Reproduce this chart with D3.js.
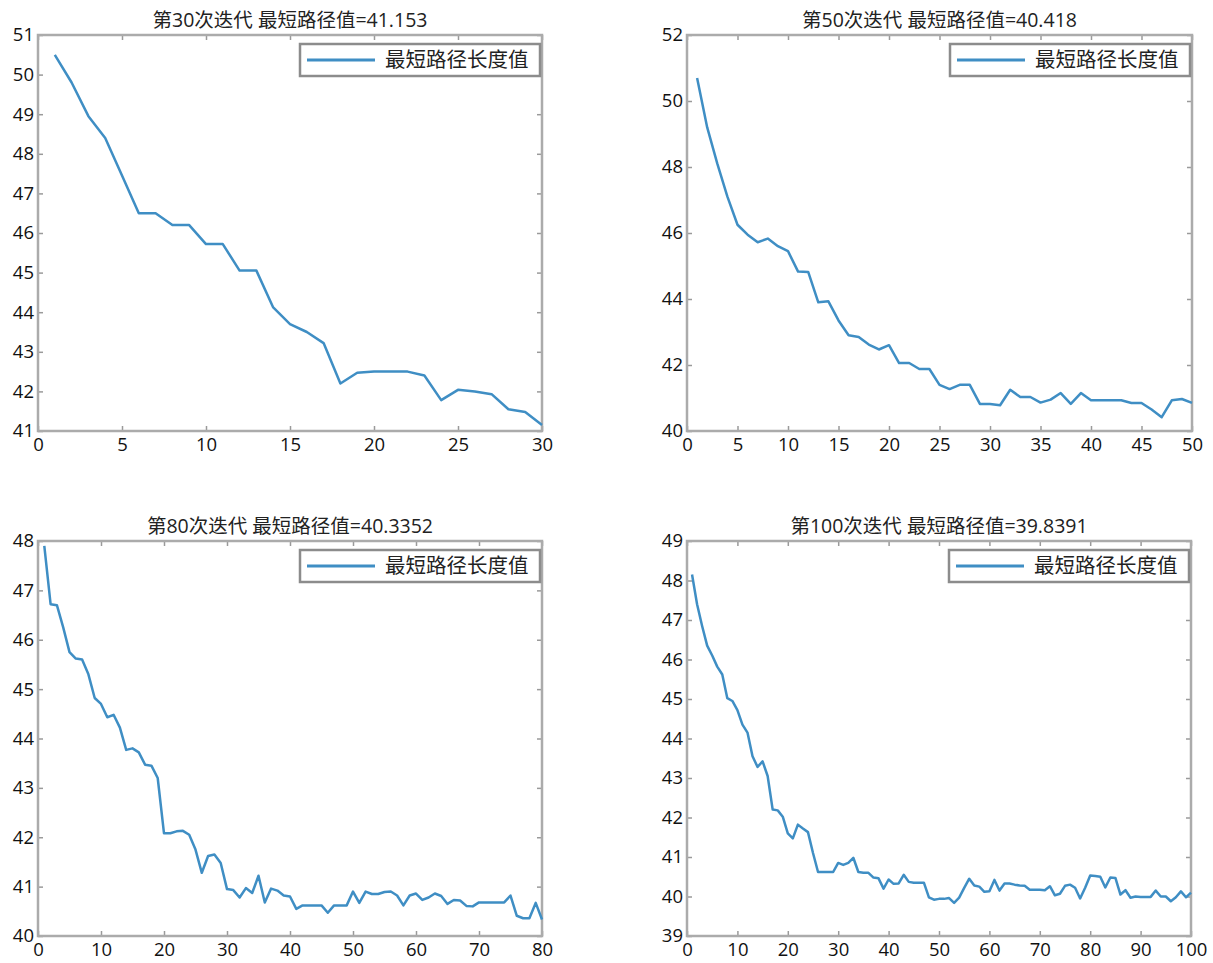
<!DOCTYPE html>
<html>
<head>
<meta charset="utf-8">
<script src="https://cdn.jsdelivr.net/npm/d3@7"></script>
<style>
  body { margin: 0; background: #fff; }
  svg { display: block; }
  .tick text { font-family: "Open Sans", "Noto Sans CJK SC", sans-serif; font-size: 18.5px; fill: #111; }
</style>
</head>
<body>
<script>
// datos (valor de la ruta mas corta por iteracion)
let iter30 = [50.5, 49.8, 48.95, 48.4, 47.45, 46.5, 46.5, 46.2, 46.2, 45.72,
    45.72, 45.05, 45.05, 44.12, 43.7, 43.5, 43.22, 42.2, 42.47, 42.5,
    42.5, 42.5, 42.4, 41.78, 42.04, 42.0, 41.93, 41.55, 41.48, 41.153];

let iter50 = [50.7, 49.2, 48.1, 47.1, 46.25, 45.95, 45.72, 45.83, 45.6, 45.45,
    44.83, 44.82, 43.9, 43.93, 43.35, 42.9, 42.85, 42.62, 42.47, 42.6,
    42.06, 42.06, 41.88, 41.88, 41.4, 41.27, 41.4, 41.4, 40.82, 40.82,
    40.78, 41.25, 41.03, 41.03, 40.86, 40.95, 41.15, 40.82, 41.15, 40.93,
    40.93, 40.93, 40.93, 40.85, 40.85, 40.65, 40.418, 40.93, 40.97, 40.85];

let iter80 = [47.9, 46.72, 46.7, 46.25, 45.75, 45.62, 45.6, 45.3, 44.82, 44.7,
    44.43, 44.48, 44.22, 43.77, 43.8, 43.72, 43.47, 43.45, 43.2, 42.08,
    42.08, 42.12, 42.13, 42.05, 41.75, 41.28, 41.62, 41.65, 41.48, 40.95,
    40.93, 40.78, 40.97, 40.87, 41.22, 40.68, 40.96, 40.92, 40.82, 40.8,
    40.55, 40.62, 40.62, 40.62, 40.62, 40.47, 40.62, 40.62, 40.62, 40.9,
    40.67, 40.9, 40.85, 40.85, 40.89, 40.9, 40.82, 40.62, 40.82, 40.86,
    40.73, 40.78, 40.86, 40.81, 40.65, 40.73, 40.72, 40.61, 40.6, 40.68,
    40.68, 40.68, 40.68, 40.68, 40.82, 40.41, 40.36, 40.36, 40.67, 40.3352];

let iter100 = [48.15, 47.4, 46.85, 46.35, 46.1, 45.82, 45.62, 45.02, 44.95, 44.72,
    44.35, 44.15, 43.55, 43.28, 43.42, 43.05, 42.2, 42.18, 42.02, 41.6,
    41.47, 41.82, 41.72, 41.63, 41.1, 40.62, 40.62, 40.62, 40.62, 40.85,
    40.8, 40.85, 40.98, 40.62, 40.6, 40.6, 40.48, 40.46, 40.2, 40.43,
    40.32, 40.33, 40.55, 40.37, 40.35, 40.35, 40.35, 39.98, 39.92, 39.94,
    39.94, 39.96, 39.8391, 39.97, 40.22, 40.45, 40.28, 40.25, 40.12, 40.13,
    40.42, 40.15, 40.33, 40.33, 40.3, 40.28, 40.27, 40.17, 40.17, 40.17,
    40.16, 40.26, 40.03, 40.07, 40.27, 40.3, 40.22, 39.95, 40.22, 40.53,
    40.52, 40.5, 40.23, 40.48, 40.47, 40.05, 40.16, 39.97, 40.0, 39.99,
    39.99, 39.99, 40.15, 40.0, 40.0, 39.88, 39.98, 40.13, 39.98, 40.1];

let titulos = ["第30次迭代 最短路径值=41.153", "第50次迭代 最短路径值=40.418",
    "第80次迭代 最短路径值=40.3352", "第100次迭代 最短路径值=39.8391"];
let leyenda = "最短路径长度值";

// dominios y marcas de cada eje
let xDominios = [[0, 30], [0, 50], [0, 80], [0, 100]];
let yDominios = [[41, 51], [40, 52], [40, 48], [39, 49]];
let xPasos = [5, 5, 10, 10];
let yPasos = [1, 2, 1, 1];

let w = 1213;
let h = 963;
let svg = d3.select('body')
    .append('svg')
    .attr('width', w)
    .attr('height', h);

// cajas de cada grafica (izq, der, arriba, abajo)
let cajas = [
    [38, 542, 35, 431],
    [687, 1192, 35, 431],
    [38, 542, 541, 936],
    [687, 1191, 541, 936]
];

let series = [iter30, iter50, iter80, iter100];

function graficar(k) {
    let [x0, x1, y0, y1] = cajas[k];
    let datos = series[k];

    let x = d3.scaleLinear().domain(xDominios[k]).range([x0, x1]);
    let y = d3.scaleLinear().domain(yDominios[k]).range([y1, y0]);

    let xt = d3.range(xDominios[k][0], xDominios[k][1] + 0.001, xPasos[k]);
    let yt = d3.range(yDominios[k][0], yDominios[k][1] + 0.001, yPasos[k]);

    let g = svg.append('g');

    // ejes con marcas hacia adentro
    let ab = g.append('g')
        .attr('transform', `translate(0,${y1})`)
        .call(d3.axisBottom(x).tickValues(xt).tickSize(-5).tickSizeOuter(0).tickPadding(7));
    let iz = g.append('g')
        .attr('transform', `translate(${x0},0)`)
        .call(d3.axisLeft(y).tickValues(yt).tickSize(-5).tickSizeOuter(0).tickPadding(4));
    let ar = g.append('g')
        .attr('transform', `translate(0,${y0})`)
        .call(d3.axisTop(x).tickValues(xt).tickSize(-5).tickSizeOuter(0).tickFormat(''));
    let de = g.append('g')
        .attr('transform', `translate(${x1},0)`)
        .call(d3.axisRight(y).tickValues(yt).tickSize(-5).tickSizeOuter(0).tickFormat(''));

    [ab, iz, ar, de].forEach(a => {
        a.select('.domain').remove();
        a.selectAll('.tick line').attr('stroke', '#9a9a9a').attr('stroke-width', 1.5);
    });

    // marco
    g.append('rect')
        .attr('x', x0)
        .attr('y', y0)
        .attr('width', x1 - x0)
        .attr('height', y1 - y0)
        .attr('fill', 'none')
        .attr('stroke', '#ababab')
        .attr('stroke-width', 2.5);

    let linea = d3.line()
        .x((d, i) => x(i + 1))
        .y(d => y(d));

    g.append('path')
        .datum(datos)
        .attr('d', linea)
        .attr('fill', 'none')
        .attr('stroke', '#3f8ec4')
        .attr('stroke-width', 2.5)
        .attr('stroke-linejoin', 'round');

    // titulo
    g.append('text')
        .attr('x', (x0 + x1) / 2)
        .attr('y', y0 - 8)
        .attr('text-anchor', 'middle')
        .style('font-family', '"Open Sans", "Noto Sans CJK SC", sans-serif')
        .style('font-size', '19.5px')
        .style('fill', '#222')
        .text(titulos[k]);

    // leyenda
    let lx = x1 - 242;
    let ly = y0 + 9;
    g.append('rect')
        .attr('x', lx)
        .attr('y', ly)
        .attr('width', 240)
        .attr('height', 32)
        .attr('fill', '#fff')
        .attr('stroke', '#8c8c8c')
        .attr('stroke-width', 2.5);
    g.append('line')
        .attr('x1', lx + 7)
        .attr('x2', lx + 75)
        .attr('y1', ly + 16)
        .attr('y2', ly + 16)
        .attr('stroke', '#3f8ec4')
        .attr('stroke-width', 3.2);
    g.append('text')
        .attr('x', lx + 85)
        .attr('y', ly + 23)
        .style('font-family', '"Noto Sans CJK SC", sans-serif')
        .style('font-size', '20.5px')
        .style('fill', '#222')
        .text(leyenda);
}

for (let k = 0; k < 4; k++) {
    graficar(k);
}
</script>
</body>
</html>
